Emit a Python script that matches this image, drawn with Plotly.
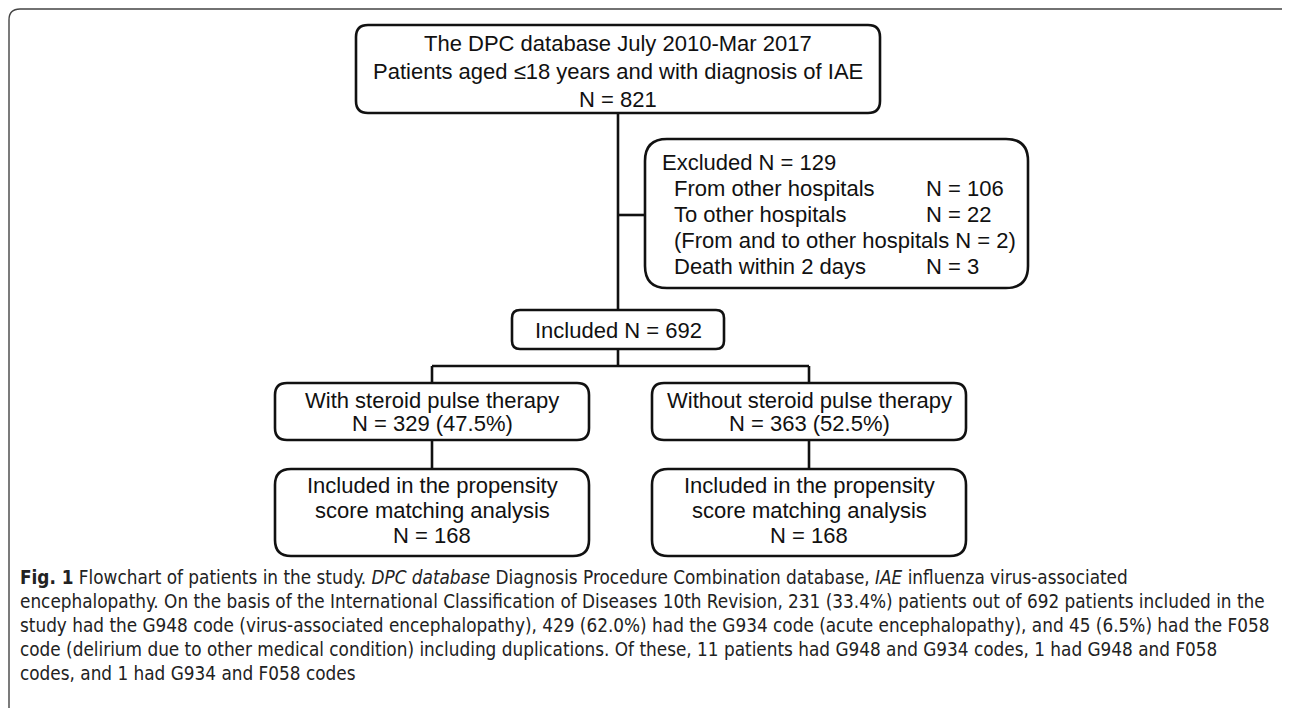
import plotly.graph_objects as go

# ---- text content (data) ----
top_lines = ["The DPC database July 2010-Mar 2017",
             "Patients aged \u226418 years and with diagnosis of IAE",
             "N = 821"]
excl_header = "Excluded N = 129"
excl_labels = ["From other hospitals", "To other hospitals",
               "(From and to other hospitals N = 2)", "Death within 2 days"]
excl_counts = ["N = 106", "N = 22", "", "N = 3"]
included_text = "Included N = 692"
group_lines = [["With steroid pulse therapy", "N = 329 (47.5%)"],
               ["Without steroid pulse therapy", "N = 363 (52.5%)"]]
psm_lines = [["Included in the propensity", "score matching analysis", "N = 168"],
             ["Included in the propensity", "score matching analysis", "N = 168"]]
caption_lines = [
    "<b>Fig. 1</b> Flowchart of patients in the study. <i>DPC database</i> Diagnosis Procedure Combination database, <i>IAE</i> influenza virus-associated",
    "encephalopathy. On the basis of the International Classification of Diseases 10th Revision, 231 (33.4%) patients out of 692 patients included in the",
    "study had the G948 code (virus-associated encephalopathy), 429 (62.0%) had the G934 code (acute encephalopathy), and 45 (6.5%) had the F058",
    "code (delirium due to other medical condition) including duplications. Of these, 11 patients had G948 and G934 codes, 1 had G948 and F058",
    "codes, and 1 had G934 and F058 codes",
]

PAGE_W, PAGE_H, BODY = 1290, 708, 8   # browser body margin is 8px
BOX_FONT = dict(family="Liberation Sans, Arial, sans-serif", size=22, color="#111111")
CAP_FONT = dict(family="DejaVu Sans Condensed, DejaVu Sans, sans-serif", size=18.8, color="#222222")
LINE = dict(color="#111111", width=2.6)


def rrect(x0, y0, x1, y1, r):
    return (f"M {x0+r},{y0} L {x1-r},{y0} Q {x1},{y0} {x1},{y0+r} "
            f"L {x1},{y1-r} Q {x1},{y1} {x1-r},{y1} L {x0+r},{y1} "
            f"Q {x0},{y1} {x0},{y1-r} L {x0},{y0+r} Q {x0},{y0} {x0+r},{y0} Z")


shapes = []
annos = []


def box(x0, y0, x1, y1, r=12):
    shapes.append(dict(type="path", path=rrect(x0, y0, x1, y1, r), line=LINE,
                       fillcolor="rgba(0,0,0,0)", layer="above"))


def seg(x0, y0, x1, y1):
    shapes.append(dict(type="line", x0=x0, y0=y0, x1=x1, y1=y1, line=LINE))


def text(x, y, s, anchor="center", font=BOX_FONT):
    annos.append(dict(x=x, y=y, text=s, showarrow=False, xanchor=anchor,
                      yanchor="middle", font=font, xref="x", yref="y"))


# outer frame (page coordinates)
shapes.append(dict(type="path",
                   path=f"M 9,{PAGE_H+5} L 9,20 Q 9,9 20,9 L 1287,9 L 1289,12",
                   line=dict(color="#444444", width=1.4)))

cx = 618
# top box
box(356, 25, 880, 113)
for i, s in enumerate(top_lines):
    text(cx, 43 + 28 * i, s)

# main vertical line and branch to exclusions
seg(cx, 113, cx, 310)
seg(cx, 215, 645, 215)

# excluded box
box(645, 139, 1028, 288, r=22)
text(660, 162, excl_header, anchor="left")
for i, (lab, cnt) in enumerate(zip(excl_labels, excl_counts)):
    y = 188 + 26 * i
    text(672, y, lab, anchor="left")
    if cnt:
        text(924, y, cnt, anchor="left")

# included
box(512, 310, 724, 349, r=8)
text(cx, 330, included_text)

# split
lx, rx = 432, 809
seg(cx, 349, cx, 366)
seg(lx, 366, rx, 366)
seg(lx, 366, lx, 383)
seg(rx, 366, rx, 383)

for c, g, p in zip([lx, rx], group_lines, psm_lines):
    box(c - 157, 383, c + 157, 440, r=12)
    for i, s in enumerate(g):
        text(c, 400 + 23 * i, s)
    seg(c, 440, c, 469)
    box(c - 157, 469, c + 157, 556, r=16)
    for i, s in enumerate(p):
        text(c, 485 + 25 * i, s)

# caption
for i, s in enumerate(caption_lines):
    text(18, 577 + 24 * i, s, anchor="left", font=CAP_FONT)

fig = go.Figure()
fig.update_layout(
    width=PAGE_W - BODY, height=PAGE_H - BODY, margin=dict(l=0, r=0, t=0, b=0),
    paper_bgcolor="white", plot_bgcolor="white",
    xaxis=dict(range=[BODY, PAGE_W], visible=False, fixedrange=True),
    yaxis=dict(range=[PAGE_H, BODY], visible=False, fixedrange=True),
    shapes=shapes, annotations=annos, showlegend=False,
)
fig.write_html("out.html")
